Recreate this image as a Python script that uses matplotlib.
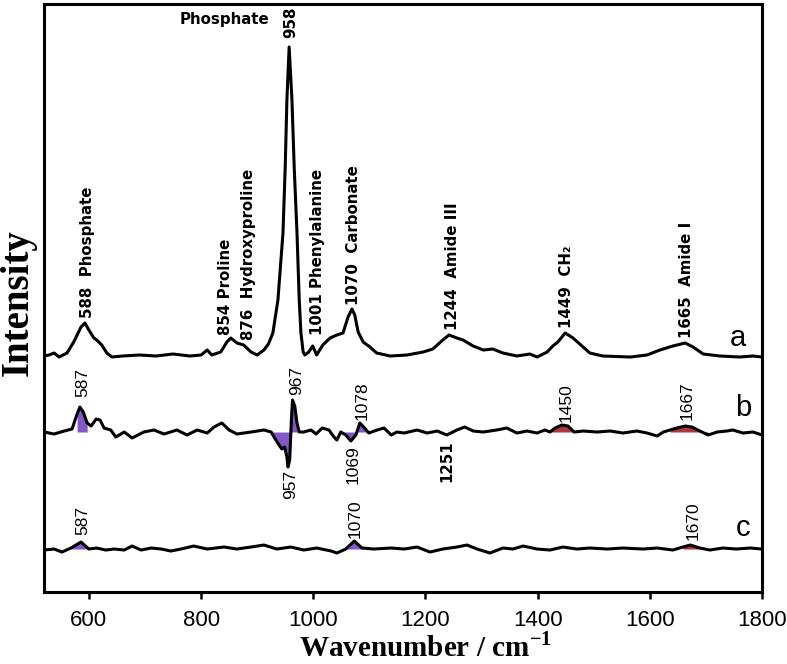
import numpy as np
import matplotlib
matplotlib.use("Agg")
import matplotlib.pyplot as plt

# spectrum a (bone), wavenumber / relative intensity
a_wn = [520, 529, 538, 547, 561, 573, 586, 593, 600, 609,
        614, 623, 632, 641, 660, 690, 720, 750, 780, 800,
        811, 819, 835, 846, 853, 864, 876, 889, 900, 912,
        920, 928, 937, 946, 950, 953, 957, 962, 966, 971,
        975, 978, 982, 985, 992, 999, 1006, 1017, 1030, 1042,
        1053, 1062, 1069, 1074, 1080, 1089, 1101, 1113, 1137, 1167,
        1196, 1213, 1231, 1242, 1256, 1267, 1285, 1303, 1320, 1338,
        1363, 1386, 1399, 1417, 1427, 1436, 1449, 1463, 1479, 1493,
        1516, 1565, 1595, 1618, 1641, 1663, 1677, 1695, 1725, 1760,
        1784, 1800]
a_val = [0, 1, 3, -1, 3, 14, 29, 33, 26, 18,
         16, 11, 3, -1, 0, 1, 0, 2, 0, 1,
         6, 1, 4, 14, 18, 13, 11, 4, 1, 6,
         12, 23, 56, 123, 189, 256, 309, 256, 189, 123,
         56, 23, 4, 1, 4, 10, 1, 11, 18, 21,
         23, 39, 47, 41, 24, 14, 9, 3, 0, 1,
         4, 7, 16, 21, 18, 16, 10, 6, 7, 3,
         0, 2, -1, 4, 10, 14, 23, 18, 10, 3,
         0, -1, 1, 6, 10, 13, 9, 2, 0, -1,
         0, -1]

# difference spectrum b
b_wn = [520, 538, 556, 570, 579, 584, 590, 597, 604, 613,
        620, 627, 639, 648, 663, 677, 698, 716, 734, 757,
        775, 793, 811, 823, 837, 850, 864, 889, 912, 925,
        930, 939, 944, 949, 953, 955, 958, 961, 963, 967,
        971, 975, 983, 996, 1005, 1016, 1028, 1037, 1042, 1049,
        1058, 1067, 1076, 1083, 1090, 1099, 1114, 1126, 1139, 1149,
        1162, 1185, 1203, 1221, 1238, 1256, 1270, 1285, 1303, 1327,
        1345, 1363, 1381, 1399, 1413, 1422, 1431, 1443, 1454, 1465,
        1481, 1506, 1529, 1552, 1577, 1595, 1613, 1624, 1636, 1648,
        1663, 1675, 1689, 1704, 1720, 1737, 1748, 1766, 1784, 1800]
b_val = [0, -2, 1, 3, 18, 25, 20, 9, 6, 13,
         12, 4, 2, -5, 0, -6, 0, 2, -2, 2,
         -3, 2, -1, 5, 9, 2, -2, 0, 2, 0,
         -5, -13, -17, -15, -25, -35, -28, 12, 32, 26,
         9, 0, 0, 2, -2, 4, 2, -5, -8, 0,
         -3, -9, -3, 9, 5, -1, 2, 4, -3, 0,
         -1, 2, -1, 1, -3, 2, 5, 1, 0, 2,
         4, -1, 1, -1, 2, 0, 4, 7, 6, 0,
         1, 0, 1, -1, 1, -1, -4, 0, 2, 4,
         6, 5, 1, -3, 0, 1, 2, -1, 0, -3]

# difference spectrum c
c_wn = [520, 538, 552, 568, 586, 600, 614, 630, 645, 663,
        677, 693, 711, 729, 746, 764, 787, 811, 841, 864,
        889, 912, 935, 960, 983, 1006, 1032, 1042, 1058, 1073,
        1087, 1108, 1139, 1162, 1185, 1208, 1231, 1256, 1274, 1292,
        1315, 1338, 1356, 1374, 1399, 1422, 1445, 1470, 1493, 1524,
        1552, 1588, 1613, 1641, 1659, 1672, 1689, 1707, 1730, 1754,
        1779, 1800]
c_val = [-1, 0, -3, 1, 7, 0, 1, -1, 0, -1,
         3, -1, 1, 0, -2, 0, 3, 0, 2, 0,
         2, 4, 0, 2, -1, 1, -2, -4, 0, 8,
         1, 0, 1, 0, 2, -3, 0, 2, 4, 0,
         -4, 1, 0, 3, 0, -1, 2, 0, 1, 0,
         1, 0, 1, -1, 2, 4, 1, -1, 1, 0,
         1, 0]

offsets = {"a": 236, "b": 160, "c": 43}

# shaded bands (mineral = purple, organic = red)
b_purple = [(572, 600), (925, 975), (1049, 1099)]
b_red = [(1422, 1465), (1636, 1704)]
c_purple = [(568, 600), (1058, 1087)]
c_red = [(1659, 1689)]

purple = "#7446c2"
red = "#a3202c"

a_labels = [("588  Phosphate", 597, 274), ("854 Proline", 844, 257),
            ("876  Hydroxyproline", 885, 252), ("1001 Phenylalanine", 1008, 257),
            ("1070  Carbonate", 1071, 287), ("1244  Amide III", 1249, 262),
            ("1449  CH\u2082", 1452, 264), ("1665  Amide I", 1666, 254),
            ("958", 960, 554)]
up_labels = [("587", 590, 195), ("967", 971, 197), ("1078", 1087, 172),
             ("1450", 1450, 170), ("1667", 1666, 172),
             ("587", 590, 57), ("1070", 1074, 54), ("1670", 1677, 52)]
down_labels = [("957", 960, 122), ("1069", 1071, 147)]

fig = plt.figure(figsize=(7.87, 6.64), dpi=100)
ax = fig.add_axes([0.0559, 0.1084, 0.9124, 0.8856])


def shade(wn, val, off, ranges, color):
    wn = np.asarray(wn)
    val = np.asarray(val)
    for lo, hi in ranges:
        m = (wn >= lo) & (wn <= hi)
        ax.fill_between(wn[m], off, val[m] + off, color=color, lw=0, alpha=0.9)


shade(b_wn, b_val, offsets["b"], b_purple, purple)
shade(b_wn, b_val, offsets["b"], b_red, red)
shade(c_wn, c_val, offsets["c"], c_purple, purple)
shade(c_wn, c_val, offsets["c"], c_red, red)

for wn, val, key in [(a_wn, a_val, "a"), (b_wn, b_val, "b"), (c_wn, c_val, "c")]:
    ax.plot(wn, np.asarray(val) + offsets[key], color="black", lw=2.2,
            solid_joinstyle="round")

for txt, x, y in a_labels:
    ax.text(x, y, txt, rotation=90, ha="center", va="bottom",
            fontsize=10.8, fontweight="bold", family="DejaVu Sans")
ax.text(921, 572, "Phosphate", ha="right", va="center",
        fontsize=10.8, fontweight="bold", family="DejaVu Sans")
ax.text(1238, 152, "1251", rotation=90, ha="center", va="top",
        fontsize=10.8, fontweight="bold", family="DejaVu Sans")

for txt, x, y in up_labels:
    ax.text(x, y, txt, rotation=90, ha="center", va="bottom",
            fontsize=12.5, family="Liberation Sans")
for txt, x, y in down_labels:
    ax.text(x, y, txt, rotation=90, ha="center", va="top",
            fontsize=12.5, family="Liberation Sans")

for letter, x, y in [("a", 1757, 254), ("b", 1766, 184), ("c", 1766, 64)]:
    ax.text(x, y, letter, ha="center", va="center", fontsize=21,
            family="Liberation Sans")

ax.set_xlim(520, 1800)
ax.set_ylim(0, 588)
ax.set_yticks([])
ax.set_xticks([600, 800, 1000, 1200, 1400, 1600, 1800])
ax.tick_params(axis="x", direction="out", length=5, width=1.8, pad=8,
               labelsize=16)
for lab in ax.get_xticklabels():
    lab.set_family("Liberation Sans")
for sp in ax.spines.values():
    sp.set_linewidth(2.2)

ax.set_xlabel("Wavenumber / cm$^{\\mathregular{-1}}$", fontsize=21,
              fontweight="bold", family="Liberation Serif")
ax.xaxis.set_label_coords(0.531, -0.068)
ax.set_ylabel("Intensity", fontsize=28, fontweight="bold",
              family="Liberation Serif")
ax.yaxis.set_label_coords(-0.010, 0.493)

fig.savefig("out.png", dpi=100)
